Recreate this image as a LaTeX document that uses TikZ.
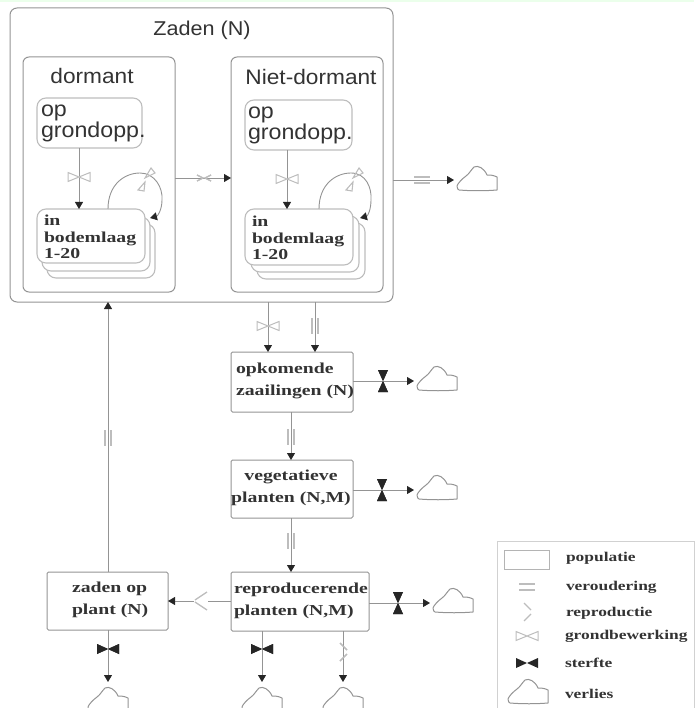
\documentclass[tikz,border=0pt]{standalone}
\usepackage{fontspec}
\setmainfont{Liberation Serif}
\newfontfamily\lsans[FakeStretch=1.08]{Liberation Sans}
\newfontfamily\bserif[FakeStretch=1.3]{Liberation Serif}
\usetikzlibrary{arrows.meta,calc}
\definecolor{ln}{gray}{0.58}
\definecolor{lnl}{gray}{0.74}
\definecolor{txt}{gray}{0.2}
\tikzset{
  x=1pt,y=-1pt,
  every node/.style={inner sep=0pt,outer sep=0pt,text=txt},
  conn/.style={draw=ln,line width=0.9pt},
  arr/.style={conn,-{Triangle[length=7pt,width=8pt,color=black!85]}},
  outerbox/.style={draw=ln,line width=1pt,rounded corners=7pt,anchor=north west},
  midbox/.style={draw=ln,line width=1pt,rounded corners=6pt,anchor=north west},
  innerbox/.style={draw=lnl,line width=1.1pt,rounded corners=9pt,anchor=north west,fill=white},
  popbox/.style={draw=ln,line width=1pt,rounded corners=1.5pt,anchor=north west,fill=white},
  head/.style={font=\lsans\fontsize{20}{22}\selectfont},
  subhead/.style={font=\lsans\fontsize{21}{22}\selectfont},
  sanstext/.style={font=\lsans\fontsize{21.5}{21}\selectfont,align=left,anchor=north west},
  boldtext/.style={font=\bserif\bfseries\fontsize{15.2}{16.5}\selectfont,align=left,anchor=north west},
  boxtext/.style={font=\bserif\bfseries\fontsize{15.2}{22}\selectfont,align=left,anchor=north west},
  boxtextc/.style={font=\bserif\bfseries\fontsize{15.2}{22}\selectfont,align=center,anchor=north},
  legendtext/.style={font=\bserif\bfseries\fontsize{13.4}{14}\selectfont,anchor=west},
  tillage/.style={minimum width=26pt,minimum height=11pt,path picture={
    \draw[lnl,line width=1pt,fill=white]
      (-11,-4.5)--(0,0)--(-11,4.5)--cycle (11,-4.5)--(0,0)--(11,4.5)--cycle;}},
  deathh/.style={minimum width=26pt,minimum height=13pt,path picture={
    \fill[black!85] (-11,-5)--(0,0)--(-11,5)--cycle (11,-5)--(0,0)--(11,5)--cycle;}},
  deathv/.style={minimum width=13pt,minimum height=26pt,path picture={
    \fill[black!85] (-5,-11)--(0,0)--(5,-11)--cycle (-5,11)--(0,0)--(5,11)--cycle;}},
  agingh/.style={minimum width=18pt,minimum height=12pt,path picture={
    \draw[lnl,line width=2pt] (-8,-3)--(8,-3) (-8,3)--(8,3);}},
  agingv/.style={minimum width=12pt,minimum height=18pt,path picture={
    \draw[lnl,line width=2pt] (-3,-8)--(-3,8) (3,-8)--(3,8);}},
  reprol/.style={minimum width=14pt,minimum height=24pt,path picture={
    \draw[lnl,line width=1.3pt] (6,-9)--(-6,-1) (6,9)--(-6,1);}},
  reprod/.style={minimum width=16pt,minimum height=22pt,path picture={
    \draw[lnl,line width=1.3pt] (-3,-9)--(4,-2) (-3,9)--(4,2);}},
  reproh/.style={minimum width=18pt,minimum height=14pt,path picture={
    \draw[lnl,line width=1.3pt] (-7,-3)--(-1,0)--(-7,3) (7,-3)--(1,0)--(7,3);}},
  reprou/.style={minimum width=22pt,minimum height=28pt,path picture={
    \draw[lnl,line width=1.1pt] (-1,-2)--(5,-12)--(9,-7)--cycle (-1,2)--(-8,10)--(-2,11)--cycle;}},
  cloudy/.style={minimum width=46pt,minimum height=32pt,path picture={
    \draw[draw=ln,line width=1pt,fill=white,line join=round]
      (-18,10) .. controls (-6,11) and (8,11) .. (20,10)
      --(20,-3) .. controls (16,-5) and (13,-5) .. (10,-5)
      .. controls (7,-12) and (1,-15) .. (-3,-13)
      .. controls (-6,-10) and (-8,-6) .. (-11,-4)
      .. controls (-15,-1) and (-19,3) .. (-20,6)
      .. controls (-20,8) and (-19,10) .. (-18,10)--cycle;}},
}
\begin{document}
\begin{tikzpicture}
\useasboundingbox (0,0) rectangle (694,708);
\fill[green!8] (0,0) rectangle (694,2);

% containers
\node[outerbox,minimum width=383pt,minimum height=294pt] (zaden) at (10,8) {};
\node[midbox,minimum width=152pt,minimum height=235pt] (dorm) at (23,57) {};
\node[midbox,minimum width=152pt,minimum height=235pt] (niet) at (231,57) {};
\node[head] (tz) at (202,30) {Zaden (N)};
\node[subhead] (td) at (92,76) {dormant};
\node[subhead] (tn) at (311,77) {Niet-dormant};

% left seed boxes
\node[innerbox,minimum width=105pt,minimum height=50pt] (opl) at (37,98) {};
\node[sanstext] (optl) at (41,105) {op\\grondopp.};
\node[innerbox,minimum width=108pt,minimum height=54pt] (l3) at (47,224) {};
\node[innerbox,minimum width=108pt,minimum height=54pt] (l2) at (42,217) {};
\node[innerbox,minimum width=108pt,minimum height=54pt] (inl) at (37,209) {};
\node[boldtext] (intl) at (44,215) {in\\bodemlaag\\1-20};

% right seed boxes
\node[innerbox,minimum width=107pt,minimum height=50pt] (opr) at (245,100) {};
\node[sanstext] (optr) at (248,107) {op\\grondopp.};
\node[innerbox,minimum width=108pt,minimum height=56pt] (r3) at (257,223) {};
\node[innerbox,minimum width=108pt,minimum height=56pt] (r2) at (251,216) {};
\node[innerbox,minimum width=108pt,minimum height=56pt] (inr) at (245,209) {};
\node[boldtext] (intr) at (252,216) {in\\bodemlaag\\1-20};

% population boxes
\node[popbox,minimum width=122pt,minimum height=60pt] (opk) at (231,352) {};
\node[boxtext] (opkt) at (236,363) {opkomende\\zaailingen (N)};
\node[popbox,minimum width=122pt,minimum height=58pt] (veg) at (231,460) {};
\node[boxtextc] (vegt) at (291,470) {vegetatieve\\planten (N,M)};
\node[popbox,minimum width=138pt,minimum height=59pt] (rep) at (231,572) {};
\node[boxtext] (rept) at (234,583) {reproducerende\\planten (N,M)};
\node[popbox,minimum width=121pt,minimum height=58pt] (zop) at (47,572) {};
\node[boxtext] (zopt) at (72,582) {zaden op\\plant (N)};

% clouds
\node[cloudy] (c1) at (477,180) {};
\node[cloudy] (c2) at (437,380) {};
\node[cloudy] (c3) at (437,489) {};
\node[cloudy] (c4) at (453,602) {};
\node[cloudy] (c5) at (108,701) {};
\node[cloudy] (c6) at (262,701) {};
\node[cloudy] (c7) at (343,701) {};

% connector anchors and valves
\coordinate (a1) at (79,148);
\coordinate (a2) at (79,209);
\coordinate (a3) at (287,150);
\coordinate (a4) at (287,209);
\coordinate (l1) at (108,209);
\coordinate (l1e) at (150,218);
\coordinate (r1) at (319,209);
\coordinate (r1e) at (360,218);

\draw[arr] (a1) -- (a2);
\draw[arr] (a3) -- (a4);
\node[tillage] (v1) at (79,177) {};
\node[tillage] (v2) at (287,179) {};

\draw[conn] (l1) .. controls (108,184) and (125,173) .. (140,173)
  .. controls (155,173) and (163,188) .. (162,200);
\draw[arr] (162,200) .. controls (162,209) and (158,216) .. (l1e);
\node[reprou] (v3) at (146,180) {};
\draw[conn] (r1) .. controls (319,184) and (336,173) .. (351,173)
  .. controls (366,173) and (372,188) .. (371,200);
\draw[arr] (371,200) .. controls (371,209) and (368,216) .. (r1e);
\node[reprou] (v4) at (354,180) {};

\node[reproh] (v5) at (204,178) {};
\draw[arr] (dorm.east |- v5) -- (niet.west |- v5);

\node[agingh] (v6) at (422,180) {};
\draw[arr] (zaden.east |- v6) -- ($(c1.west)+(0,0)$);

\coordinate (b1) at (268,302);
\coordinate (b1e) at (268,352);
\coordinate (b2) at (315,302);
\coordinate (b2e) at (315,352);
\draw[arr] (b1) -- (b1e);
\draw[arr] (b2) -- (b2e);
\node[tillage] (v7) at (268,326) {};
\node[agingv] (v8) at (315,326) {};

\coordinate (d1) at (291,412);
\coordinate (d1e) at (291,460);
\coordinate (d2) at (291,518);
\coordinate (d2e) at (291,572);
\draw[arr] (d1) -- (d1e);
\draw[arr] (d2) -- (d2e);
\node[agingv] (v9) at (291,437) {};
\node[agingv] (v10) at (291,541) {};

\node[deathv] (v11) at (383,381) {};
\draw[arr] (opk.east |- v11) -- ($(c2.west)+(0,1)$);
\node[deathv] (v12) at (382,490) {};
\draw[arr] (veg.east |- v12) -- ($(c3.west)+(0,1)$);
\node[deathv] (v13) at (398,603) {};
\draw[arr] (rep.east |- v13) -- ($(c4.west)+(0,1)$);

\node[reprol] (v14) at (201,601) {};
\draw[conn] (rep.west |- v14) -- (v14.east);
\draw[arr] (v14.west) -- (zop.east |- v14);

\node[agingv] (v15) at (108,438) {};
\draw[arr] (zop.north -| v15) -- (zaden.south -| v15);

\node[deathh] (v16) at (108,649) {};
\draw[arr] (zop.south -| v16) -- (108,682);
\node[deathh] (v17) at (262,649) {};
\draw[arr] (rep.south -| v17) -- (262,682);
\node[reprod] (v18) at (343,652) {};
\draw[arr] (rep.south -| v18) -- (343,682);

% redraw valves over their connectors
\node[agingh] at (422,180) {};
\node[agingv] at (108,438) {};
\node[reproh] at (204,178) {};
\node[deathv] at (383,381) {};
\node[deathv] at (382,490) {};
\node[deathv] at (398,603) {};
\node[deathh] at (108,649) {};
\node[deathh] at (262,649) {};
\node[reprod] at (343,652) {};

% legend
\node[draw=lnl!70!white,line width=1pt,anchor=north west,minimum width=197pt,minimum height=167pt] (leg) at (497,541) {};
\node[draw=ln!70!white,line width=1pt,minimum width=45pt,minimum height=19pt] (lg1) at (527,560) {};
\node[agingh] (lg2) at (527,587) {};
\node[reprod] (lg3) at (527,612) {};
\node[tillage] (lg4) at (527,636) {};
\node[deathh] (lg5) at (527,663) {};
\node[cloudy] (lg6) at (528,693) {};
\node[legendtext] (lt1) at (566,558) {populatie};
\node[legendtext] (lt2) at (566,587) {veroudering};
\node[legendtext] (lt3) at (566,613) {reproductie};
\node[legendtext] (lt4) at (565,636) {grondbewerking};
\node[legendtext] (lt5) at (565,663) {sterfte};
\node[legendtext] (lt6) at (565,694) {verlies};
\end{tikzpicture}
\end{document}
